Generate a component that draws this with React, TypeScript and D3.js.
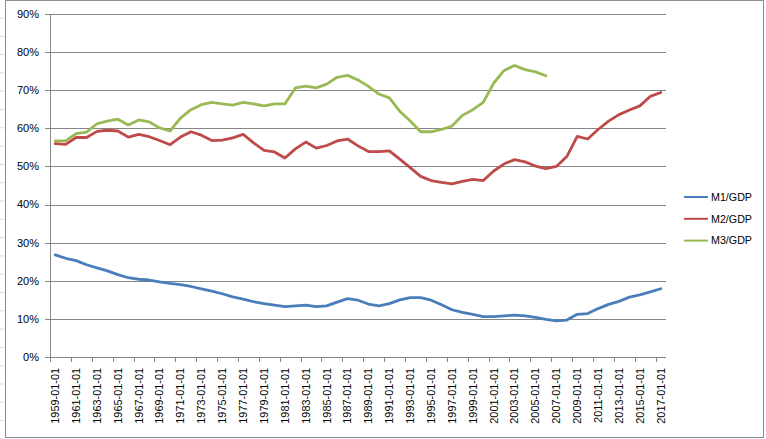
import React from "react";
import * as d3 from "d3";

const years: string[] = d3.range(1959, 2018).map((y) => `${y}-01-01`);

const m1: number[] = [
  26.8, 25.9, 25.3, 24.2, 23.4, 22.6, 21.6, 20.8, 20.4, 20.2,
  19.7, 19.3, 19.0, 18.5, 17.9, 17.3, 16.6, 15.8, 15.2, 14.5,
  14.0, 13.6, 13.2, 13.4, 13.6, 13.2, 13.4, 14.4, 15.3, 14.9,
  13.9, 13.4, 14.0, 15.0, 15.6, 15.6, 14.9, 13.7, 12.4, 11.7,
  11.2, 10.6, 10.6, 10.8, 11.0, 10.8, 10.4, 9.9, 9.5, 9.7,
  11.2, 11.4, 12.7, 13.8, 14.6, 15.7, 16.3, 17.1, 17.9,
];

const m2: number[] = [
  56.0, 55.8, 57.6, 57.6, 59.2, 59.5, 59.3, 57.7, 58.4, 57.8,
  56.8, 55.7, 57.7, 59.1, 58.2, 56.8, 56.9, 57.5, 58.4, 56.2,
  54.2, 53.8, 52.2, 54.6, 56.4, 54.8, 55.5, 56.7, 57.2, 55.4,
  53.9, 53.9, 54.1, 51.9, 49.7, 47.4, 46.3, 45.8, 45.4, 46.1,
  46.6, 46.3, 48.8, 50.7, 51.8, 51.2, 50.1, 49.4, 50.0, 52.6,
  57.9, 57.2, 59.7, 61.9, 63.6, 64.8, 65.9, 68.4, 69.4,
];

const m3: number[] = [
  56.7, 56.7, 58.6, 59.0, 61.2, 61.9, 62.4, 60.9, 62.2, 61.7,
  60.1, 59.3, 62.7, 64.9, 66.2, 66.8, 66.4, 66.1, 66.8, 66.4,
  65.9, 66.4, 66.4, 70.6, 71.1, 70.6, 71.6, 73.4, 73.9, 72.7,
  71.0, 69.0, 68.0, 64.5, 61.9, 59.1, 59.1, 59.7, 60.6, 63.4,
  64.9, 66.8, 71.9, 75.2, 76.5, 75.4, 74.8, 73.8,
];

const seriesNames: string[] = ["M1/GDP", "M2/GDP", "M3/GDP"];
const seriesColors: string[] = ["#4A7EBB", "#BE4B48", "#98B954"];
const yTicks: number[] = [0, 10, 20, 30, 40, 50, 60, 70, 80, 90];

const W = 766;
const H = 439;
const FONT = "'Liberation Sans', Arial, sans-serif";

export default function App() {
  const x = d3.scaleBand<string>().domain(years).range([50, 666]).padding(0);
  const y = d3.scaleLinear().domain([0, 90]).range([357, 14]);
  const cx = (i: number) => (x(years[i]) as number) + x.bandwidth() / 2;

  const line = d3
    .line<number>()
    .x((_, i) => cx(i))
    .y((d) => y(d));

  const series = [m1, m2, m3];
  const tickIdx = d3.range(0, years.length, 2);

  return (
    <svg
      width={W}
      height={H}
      style={{ position: "absolute", left: 0, top: 0, background: "#fff" }}
    >
      {/* spreadsheet row marks at the left */}
      {d3.range(0, 24).map((k) => (
        <line
          key={"r" + k}
          x1={0}
          x2={4}
          y1={18 + k * 18.3}
          y2={18 + k * 18.3}
          stroke="#d4dbe6"
          strokeWidth={1}
        />
      ))}
      {/* chart frame */}
      <rect
        x={5.5}
        y={0.5}
        width={758}
        height={437}
        fill="#fff"
        stroke="#8c8c8c"
        strokeWidth={1}
      />
      {/* gridlines */}
      {yTicks
        .filter((t) => t > 0)
        .map((t) => (
          <line
            key={"g" + t}
            x1={50}
            x2={666}
            y1={Math.round(y(t)) + 0.5}
            y2={Math.round(y(t)) + 0.5}
            stroke="#868686"
            strokeWidth={1}
          />
        ))}
      {/* y axis */}
      <line x1={50.5} x2={50.5} y1={14} y2={357} stroke="#868686" strokeWidth={1} />
      {yTicks.map((t) => (
        <g key={"yt" + t}>
          <line
            x1={45}
            x2={50}
            y1={Math.round(y(t)) + 0.5}
            y2={Math.round(y(t)) + 0.5}
            stroke="#868686"
          />
          <text
            x={39}
            y={y(t)}
            dy="0.35em"
            textAnchor="end"
            fontFamily={FONT}
            fontSize={11}
            fill="#000"
          >
            {t}%
          </text>
        </g>
      ))}
      {/* x axis */}
      <line x1={50} x2={666} y1={357.5} y2={357.5} stroke="#868686" strokeWidth={1} />
      {tickIdx.map((i) => {
        const tx = Math.round(x(years[i]) as number) + 0.5;
        return (
          <line key={"xt" + i} x1={tx} x2={tx} y1={357} y2={362} stroke="#868686" />
        );
      })}
      {tickIdx.map((i) => (
        <text
          key={"xl" + i}
          transform={`translate(${cx(i)},${368}) rotate(-90)`}
          textAnchor="end"
          dy="0.35em"
          fontFamily={FONT}
          fontSize={10.9}
          fill="#000"
        >
          {years[i]}
        </text>
      ))}
      {/* series lines */}
      {series.map((s, k) => (
        <path
          key={"s" + k}
          d={line(s) as string}
          fill="none"
          stroke={seriesColors[k]}
          strokeWidth={2.8}
          strokeLinejoin="round"
          strokeLinecap="round"
        />
      ))}
      {/* legend */}
      {seriesNames.map((n, k) => {
        const ly = 197 + k * 21.8;
        return (
          <g key={"l" + n}>
            <line
              x1={684}
              x2={708}
              y1={ly}
              y2={ly}
              stroke={seriesColors[k]}
              strokeWidth={2}
            />
            <text
              x={711}
              y={ly}
              dy="0.35em"
              fontFamily={FONT}
              fontSize={10.7}
              fill="#000"
            >
              {n}
            </text>
          </g>
        );
      })}
    </svg>
  );
}
